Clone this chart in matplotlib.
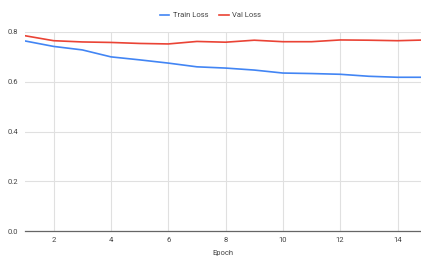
import matplotlib
matplotlib.use("Agg")
import matplotlib.pyplot as plt

epochs = list(range(1, 16))
train_loss = [0.764, 0.742, 0.728, 0.700, 0.688, 0.675, 0.660, 0.655, 0.647,
              0.635, 0.633, 0.630, 0.622, 0.618, 0.618]
val_loss = [0.785, 0.765, 0.760, 0.758, 0.754, 0.752, 0.762, 0.759, 0.767,
            0.761, 0.761, 0.768, 0.767, 0.765, 0.768]
x_ticks = [2, 4, 6, 8, 10, 12, 14]
y_ticks = [0.0, 0.2, 0.4, 0.6, 0.8]

plt.rcParams["font.family"] = ["Roboto", "DejaVu Sans"]

fig = plt.figure(figsize=(4.21, 2.57), dpi=100)
ax = fig.add_axes([25 / 421, 1 - 231 / 257, 396 / 421, 199 / 257])

ax.plot(epochs, train_loss, color="#4285f4", lw=1.2, label="Train Loss")
ax.plot(epochs, val_loss, color="#ea4335", lw=1.2, label="Val Loss")

ax.set_xlim(1, 14.82)
ax.set_ylim(0, 0.8)
ax.set_xticks(x_ticks)
ax.set_yticks(y_ticks)
ax.set_yticklabels([f"{v:.1f}" for v in y_ticks])
ax.grid(True, color="#e0e0e0", lw=0.8)
ax.set_axisbelow(True)
for s in ["top", "right", "left"]:
    ax.spines[s].set_visible(False)
ax.spines["bottom"].set_color("#666666")
ax.spines["bottom"].set_linewidth(0.9)
ax.spines["bottom"].set_zorder(3)
ax.tick_params(axis="x", length=0, labelsize=5.5, colors="#444444", pad=4)
ax.tick_params(axis="y", length=0, labelsize=5.5, colors="#444444", pad=5)
ax.set_xlabel("Epoch", fontsize=5.5, color="#444444", labelpad=5)

fig.legend(loc="center", bbox_to_anchor=(0.5, 1 - 15 / 257), ncol=2,
           frameon=False, fontsize=5.5, handlelength=1.2, columnspacing=1.5,
           handletextpad=0.5, labelcolor="#444444")

fig.savefig("out.png", dpi=100)
